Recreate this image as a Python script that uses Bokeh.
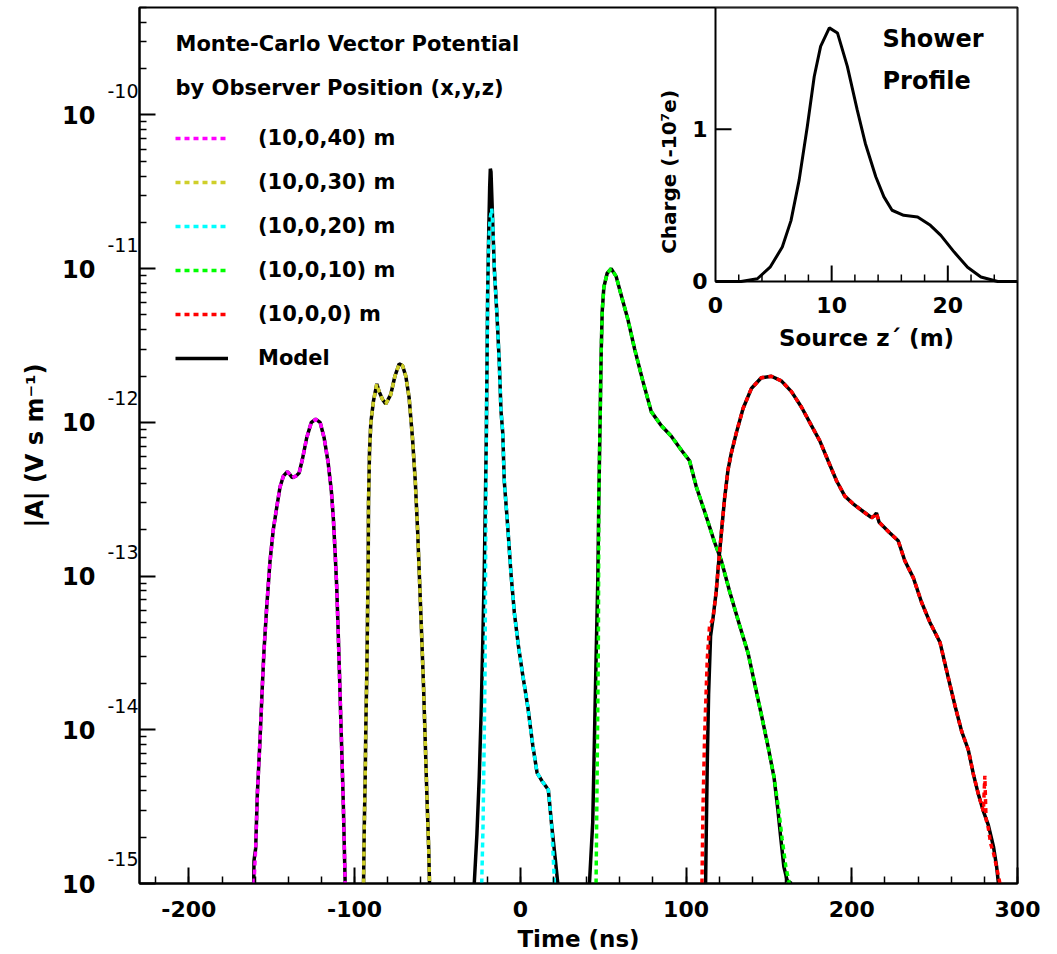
import numpy as np
from bokeh.plotting import figure
from bokeh.models import (Range1d, FixedTicker, SingleIntervalTicker, CustomJSTickFormatter,
                          Label, Legend, LegendItem, LinearScale, LogAxis)
from bokeh.embed import file_html
from bokeh.resources import INLINE

FONT = "DejaVu Sans"

# ---------------- data: main panel (time in ns, log10 |A| in V s / m) ----------------
t_model_40 = [-160.9, -160.7, -159.7, -158.7, -157.1, -155.7, -154.7, -153.1, -151.1, -149.1, -147.1,
              -145.0, -143.0, -140.6, -139.0, -137.6, -135.5, -133.5, -131.5, -128.9, -126.1, -123.5,
              -120.8, -118.4, -116.0, -114.0, -112.8, -111.8, -110.8, -110.0, -109.2, -108.4, -107.6,
              -106.8, -106.3, -105.7]
lg_model_40 = [-15.0, -14.85, -14.77, -14.42, -14.07, -13.72, -13.49, -13.21, -12.91, -12.70, -12.56,
               -12.42, -12.35, -12.32, -12.34, -12.36, -12.35, -12.33, -12.24, -12.10, -12.00, -11.98,
               -12.00, -12.10, -12.26, -12.45, -12.63, -12.84, -13.07, -13.33, -13.61, -13.91, -14.19,
               -14.49, -14.72, -15.0]
t_mc_40 = t_model_40[1:]
lg_mc_40 = [-15.0] + lg_model_40[2:]

t_model_30 = [-94.6, -94.2, -93.6, -93.2, -92.6, -92.2, -91.8, -91.6, -91.0, -90.2, -88.6, -86.6, -85.2,
              -83.2, -81.2, -78.2, -75.7, -73.1, -71.1, -69.1, -67.1, -65.1, -63.4, -62.0, -60.8, -59.6,
              -58.4, -57.4, -56.4, -55.3, -54.8]
lg_model_30 = [-15.0, -14.65, -14.30, -13.96, -13.61, -13.26, -12.91, -12.52, -12.19, -12.00, -11.86,
               -11.75, -11.80, -11.85, -11.88, -11.82, -11.70, -11.62, -11.63, -11.70, -11.84, -12.10,
               -12.38, -12.70, -13.03, -13.37, -13.72, -14.07, -14.42, -14.77, -15.0]
t_mc_30 = t_model_30
lg_mc_30 = lg_model_30

t_model_20 = [-27.8, -26.2, -24.8, -23.7, -22.7, -21.8, -21.1, -20.5, -20.1, -19.7, -19.1, -18.5, -18.1,
              -17.7, -16.7, -15.7, -14.1, -12.7, -11.7, -10.6, -9.7, -7.6, -5.6, -3.6, -1.2, 1.4, 4.5,
              7.5, 10.1, 13.5, 16.9, 18.9, 21.0, 22.6]
lg_model_20 = [-15.0, -14.68, -14.31, -13.91, -13.45, -12.99, -12.53, -12.07, -11.61, -11.15, -10.78,
               -10.47, -10.35, -10.37, -10.69, -11.00, -11.30, -11.61, -11.92, -12.07, -12.38, -12.68,
               -12.99, -13.24, -13.45, -13.64, -13.85, -14.10, -14.28, -14.34, -14.39, -14.62, -14.83,
               -15.0]
t_mc_20 = [-23.3, -22.5, -21.8, -21.3, -20.5, -20.1, -19.7, -19.1, -18.3, -17.3, -16.7, -15.7, -14.1,
           -12.7, -11.7, -10.6, -9.7, -7.6, -5.6, -3.6, -1.2, 1.4, 4.5, 7.5, 10.1, 13.5, 16.9, 18.9, 20.6]
lg_mc_20 = [-15.0, -14.62, -14.07, -13.61, -12.07, -11.61, -11.15, -10.85, -10.68, -10.61, -10.69,
            -11.00, -11.30, -11.61, -11.92, -12.07, -12.38, -12.68, -12.99, -13.24, -13.45, -13.64,
            -13.85, -14.10, -14.28, -14.34, -14.39, -14.62, -15.0]

t_model_10 = [41.7, 43.7, 44.7, 45.7, 46.8, 47.4, 48.2, 48.8, 49.4, 50.4, 52.4, 54.8, 57.8, 60.8, 64.9,
              68.9, 73.9, 79.0, 85.0, 91.1, 97.1, 102.1, 106.2, 111.2, 117.2, 121.3, 126.3, 132.3,
              137.4, 141.4, 145.4, 149.5, 153.1, 155.3, 157.2, 159.0, 161.0, 163.6]
lg_model_10 = [-15.0, -14.60, -14.07, -13.54, -13.00, -12.47, -11.94, -11.54, -11.28, -11.12, -11.03,
               -11.00, -11.05, -11.17, -11.33, -11.52, -11.73, -11.93, -12.02, -12.09, -12.18, -12.25,
               -12.42, -12.58, -12.78, -12.90, -13.10, -13.32, -13.50, -13.70, -13.90, -14.11, -14.31,
               -14.51, -14.71, -14.89, -14.98, -15.0]
t_mc_10 = [45.7, 46.3, 46.8, 47.1, 47.4, 48.2, 48.8, 49.4, 50.4, 52.4, 54.8, 57.8, 60.8, 64.9, 68.9,
           73.9, 79.0, 85.0, 91.1, 97.1, 102.1, 106.2, 111.2, 117.2, 121.3, 126.3, 132.3, 137.4, 141.4,
           145.4, 149.5, 153.1, 155.8, 158.0, 160.2, 162.3]
lg_mc_10 = [-15.0, -14.33, -13.80, -13.40, -12.47, -11.94, -11.54, -11.28, -11.12, -11.03, -11.00,
            -11.05, -11.17, -11.33, -11.52, -11.73, -11.93, -12.02, -12.09, -12.18, -12.25, -12.42,
            -12.58, -12.78, -12.90, -13.10, -13.32, -13.50, -13.70, -13.90, -14.11, -14.31, -14.51,
            -14.71, -14.89, -15.0]

t_model_0 = [111.8, 112.2, 112.8, 113.6, 114.8, 116.2, 118.2, 119.6, 121.3, 123.3, 125.3, 127.3, 130.3,
             134.4, 139.4, 145.4, 151.5, 157.5, 163.6, 169.6, 175.6, 180.7, 185.7, 190.8, 195.8, 200.8,
             206.9, 211.9, 213.4, 214.9, 216.5, 223.0, 228.0, 232.0, 237.1, 242.1, 247.1, 253.2, 258.2,
             262.2, 266.3, 270.3, 273.4, 276.4, 279.4, 282.4, 285.5, 287.4, 288.5]
lg_model_0 = [-15.0, -14.67, -14.22, -13.77, -13.39, -13.28, -13.10, -12.92, -12.72, -12.49, -12.31,
              -12.20, -12.07, -11.91, -11.78, -11.71, -11.70, -11.73, -11.80, -11.90, -12.02, -12.12,
              -12.25, -12.38, -12.48, -12.53, -12.58, -12.62, -12.61, -12.59, -12.65, -12.72, -12.77,
              -12.90, -13.01, -13.17, -13.30, -13.43, -13.66, -13.84, -14.01, -14.13, -14.29, -14.42,
              -14.53, -14.62, -14.76, -14.89, -15.0]
t_mc_0 = [109.6, 110.2, 111.2, 112.8, 114.2, 116.2, 118.2, 119.6, 121.3, 123.3, 125.3, 127.3, 130.3,
          134.4, 139.4, 145.4, 151.5, 157.5, 163.6, 169.6, 175.6, 180.7, 185.7, 190.8, 195.8, 200.8,
          206.9, 211.9, 213.4, 214.9, 216.5, 223.0, 228.0, 232.0, 237.1, 242.1, 247.1, 253.2, 258.2,
          262.2, 266.3, 270.3, 273.4, 276.4, 279.4, 280.3, 281.0, 282.4, 283.8, 285.5, 287.5, 289.4]
lg_mc_0 = [-15.0, -14.52, -14.04, -13.54, -13.32, -13.28, -13.10, -12.92, -12.72, -12.49, -12.31,
           -12.20, -12.07, -11.91, -11.78, -11.71, -11.70, -11.73, -11.80, -11.90, -12.02, -12.12,
           -12.25, -12.38, -12.48, -12.53, -12.58, -12.62, -12.61, -12.59, -12.65, -12.72, -12.77,
           -12.90, -13.01, -13.17, -13.30, -13.43, -13.66, -13.84, -14.01, -14.13, -14.29, -14.42,
           -14.53, -14.30, -14.58, -14.64, -14.74, -14.80, -14.90, -15.0]

series_labels = ["(10,0,40) m", "(10,0,30) m", "(10,0,20) m", "(10,0,10) m", "(10,0,0) m"]
series_colors = ["#ff00ff", "#cfcf2a", "#00ffff", "#00ff00", "#ff0000"]
model_t = [t_model_40, t_model_30, t_model_20, t_model_10, t_model_0]
model_lg = [lg_model_40, lg_model_30, lg_model_20, lg_model_10, lg_model_0]
mc_t = [t_mc_40, t_mc_30, t_mc_20, t_mc_10, t_mc_0]
mc_lg = [lg_mc_40, lg_mc_30, lg_mc_20, lg_mc_10, lg_mc_0]

y_major = [1e-15, 1e-14, 1e-13, 1e-12, 1e-11, 1e-10]
y_major_labels = ["10", "10", "10", "10", "10", "10"]
y_exponent_labels = ["-15", "-14", "-13", "-12", "-11", "-10"]

# ---------------- data: inset (shower profile) ----------------
z_src = [0, 2.2, 3.6, 4.7, 5.75, 6.5, 7.2, 7.9, 8.5, 9.05, 9.8, 10.5, 11.35, 12.2, 12.9, 13.8, 14.5,
         15.2, 16.2, 17.4, 18.5, 19.4, 20.55, 21.7, 22.85, 24.3, 26.0]
charge = [0, 0, 0.018, 0.094, 0.226, 0.40, 0.666, 1.017, 1.347, 1.545, 1.666, 1.633, 1.413, 1.127,
          0.907, 0.688, 0.556, 0.468, 0.435, 0.424, 0.369, 0.303, 0.193, 0.094, 0.029, 0.0, 0.0]
inset_z_major = [0, 10, 20]
inset_z_major_labels = ["0", "10", "20"]
inset_z_minor = [2, 4, 6, 8, 12, 14, 16, 18, 22, 24]
inset_q_major = [0, 1]
inset_q_major_labels = ["0", "1"]
inset_z_bounds = (0, 26)
inset_q_bounds = (0, 1.8)

# ---------------- figure ----------------
X0, X1 = -229.8, 300
p = figure(width=1050, height=954, output_backend="svg", toolbar_location=None,
           x_range=Range1d(X0, X1), y_range=Range1d(1e-15, 5e-10), y_axis_type="log",
           min_border_left=139, min_border_right=33, min_border_top=7, min_border_bottom=71,
           background_fill_color="white", border_fill_color="white")
p.xgrid.visible = False
p.ygrid.visible = False
p.outline_line_color = "black"
p.outline_line_width = 2
p.outline_line_alpha = 1

xa = p.xaxis[0]
xa.ticker = SingleIntervalTicker(interval=100, num_minor_ticks=5)
xa.formatter = CustomJSTickFormatter(code="return tick.toFixed(0);")
ya = p.yaxis[0]
ya.ticker = FixedTicker(ticks=y_major,
                        minor_ticks=[m * d for d in y_major[:-1] for m in range(2, 10)] +
                                    [m * 1e-10 for m in range(2, 6)])
ya.formatter = CustomJSTickFormatter(code="return '';")
ya.major_label_standoff = 0
for ax in (xa, ya):
    ax.axis_line_width = 2
    ax.axis_line_color = "black"
    ax.major_tick_in = 16
    ax.major_tick_out = 0
    ax.minor_tick_in = 7
    ax.minor_tick_out = 0
    ax.major_tick_line_width = 2
    ax.minor_tick_line_width = 1.5
    ax.major_label_text_font = FONT
    ax.major_label_text_font_style = "bold"
    ax.major_label_text_color = "black"
    ax.axis_label_text_font = FONT
    ax.axis_label_text_font_style = "bold"
    ax.axis_label_text_color = "black"
xa.major_label_text_font_size = "22px"
xa.major_label_standoff = 17
xa.axis_label = "Time (ns)"
xa.axis_label_text_font_size = "23px"
xa.axis_label_standoff = 6

# exponent labels (superscripts), sitting ~24 px above each decade
sup_shift = 10 ** (24 / 153.7)
ya_sup = LogAxis(ticker=FixedTicker(ticks=[v * sup_shift for v in y_major]),
                 formatter=CustomJSTickFormatter(args=dict(labels=y_exponent_labels),
                                                 code="return labels[index];"),
                 axis_line_color=None, major_tick_line_color=None, minor_tick_line_color=None,
                 major_label_standoff=-5, major_label_text_font=FONT,
                 major_label_text_font_size="19px", major_label_text_color="black")
p.add_layout(ya_sup, "left")

# base "10" labels
ya_base = LogAxis(ticker=FixedTicker(ticks=y_major),
                  formatter=CustomJSTickFormatter(args=dict(labels=y_major_labels),
                                                  code="return labels[index];"),
                  axis_line_color=None, major_tick_line_color=None, minor_tick_line_color=None,
                  major_label_standoff=3, major_label_text_font=FONT,
                  major_label_text_font_size="24px", major_label_text_font_style="bold",
                  major_label_text_color="black",
                  axis_label="|A| (V s m\u207b\u00b9)", axis_label_text_font=FONT,
                  axis_label_text_font_size="24px", axis_label_text_font_style="bold",
                  axis_label_text_color="black", axis_label_standoff=10)
p.add_layout(ya_base, "left")

# curves
legend_items = []
model_renderers = []
for lab, col, mt, ml, ct, cl in zip(series_labels, series_colors, model_t, model_lg, mc_t, mc_lg):
    model_renderers.append(p.line(mt, 10.0 ** np.array(ml), line_color="black", line_width=3.5))
    r = p.line(ct, 10.0 ** np.array(cl), line_color=col, line_width=3.5, line_dash="5 4")
    legend_items.append(LegendItem(label=lab, renderers=[r]))
legend_items.append(LegendItem(label="Model", renderers=[model_renderers[0]]))

leg = Legend(items=legend_items, location=(36, 503), glyph_width=53, glyph_height=44,
             label_height=44, spacing=0, padding=0, margin=0, label_standoff=30,
             border_line_alpha=0, background_fill_alpha=0, label_text_font=FONT,
             label_text_font_size="21px", label_text_font_style="bold", label_text_color="black")
p.add_layout(leg)

for txt, dy in (("Monte-Carlo Vector Potential", -36), ("by Observer Position (x,y,z)", -80)):
    p.add_layout(Label(x=X0, y=5e-10, x_offset=36, y_offset=dy, text=txt, text_align="left",
                       text_baseline="middle", text_font=FONT, text_font_size="21px",
                       text_font_style="bold", text_color="black"))

# ---------------- inset ----------------
p.extra_x_ranges = {"zin": Range1d(-49.59, 26)}
p.extra_y_ranges = {"qin": Range1d(-3.955, 1.8)}
p.extra_x_scales = {"zin": LinearScale()}
p.extra_y_scales = {"qin": LinearScale()}
kw = dict(x_range_name="zin", y_range_name="qin")

p.quad(left=inset_z_bounds[0], right=inset_z_bounds[1], bottom=inset_q_bounds[0],
       top=inset_q_bounds[1], fill_color="white", line_color="black", line_width=2, **kw)
p.line(z_src, charge, line_color="black", line_width=3, **kw)
p.ray(x=inset_z_major[1:], y=[0] * 2, length=16, length_units="screen", angle=np.pi / 2,
      line_color="black", line_width=2, **kw)
p.ray(x=inset_z_minor, y=[0] * len(inset_z_minor), length=7, length_units="screen",
      angle=np.pi / 2, line_color="black", line_width=1.5, **kw)
p.ray(x=[0], y=inset_q_major[1:], length=16, length_units="screen", angle=0,
      line_color="black", line_width=2, **kw)

lab_kw = dict(text_font=FONT, text_font_style="bold", text_color="black", **kw)
for zv, s in zip(inset_z_major, inset_z_major_labels):
    p.add_layout(Label(x=zv, y=0, y_offset=-24, text=s, text_align="center",
                       text_baseline="middle", text_font_size="22px", **lab_kw))
for qv, s in zip(inset_q_major, inset_q_major_labels):
    p.add_layout(Label(x=0, y=qv, x_offset=-8, text=s, text_align="right",
                       text_baseline="middle", text_font_size="22px", **lab_kw))
p.add_layout(Label(x=13, y=0, y_offset=-57, text="Source z\u00b4 (m)", text_align="center",
                   text_baseline="middle", text_font_size="23px", **lab_kw))
p.add_layout(Label(x=0, y=0.72, x_offset=-47, angle=np.pi / 2, text="Charge (-10\u2077e)",
                   text_align="center", text_baseline="middle", text_font_size="20px", **lab_kw))
p.add_layout(Label(x=0, y=1.8, x_offset=167, y_offset=-31, text="Shower", text_align="left",
                   text_baseline="middle", text_font_size="24px", **lab_kw))
p.add_layout(Label(x=0, y=1.8, x_offset=167, y_offset=-73, text="Profile", text_align="left",
                   text_baseline="middle", text_font_size="24px", **lab_kw))

open("out.html", "w").write(file_html(p, INLINE))
